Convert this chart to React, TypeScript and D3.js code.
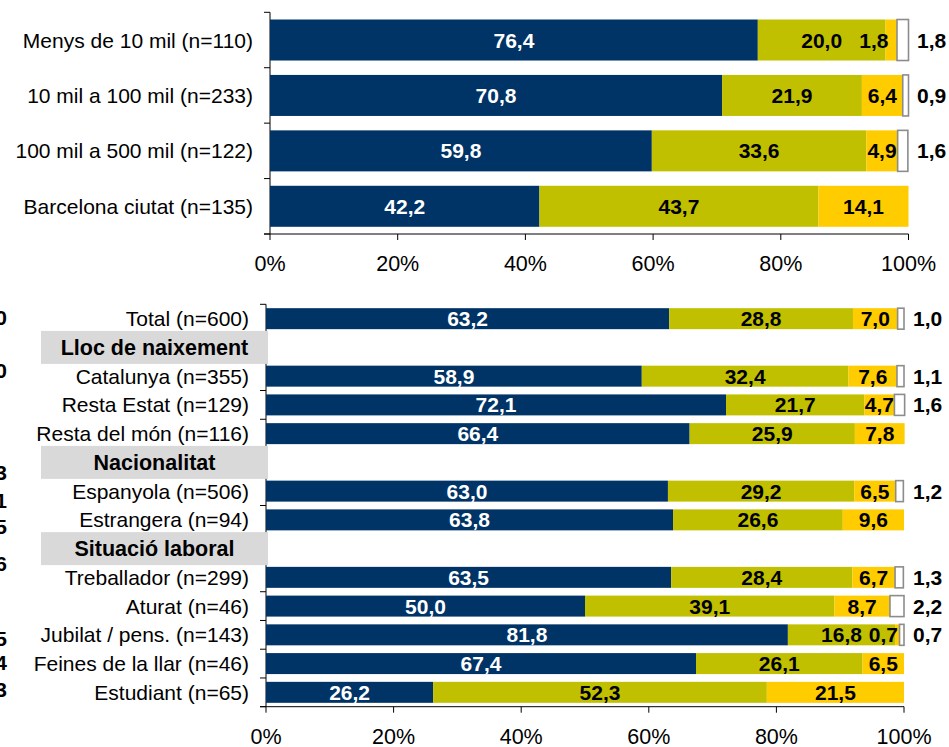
import * as d3 from 'd3'

// Tamany de municipi
const topCategories = [
  'Menys de 10 mil (n=110)',
  '10 mil a 100 mil (n=233)',
  '100 mil a 500 mil (n=122)',
  'Barcelona ciutat (n=135)',
]
const topS1 = [76.4, 70.8, 59.8, 42.2]
const topS2 = [20.0, 21.9, 33.6, 43.7]
const topS3 = [1.8, 6.4, 4.9, 14.1]
const topS4 = [1.8, 0.9, 1.6, 0]

// Perfil
const bottomRows = [
  'Total (n=600)',
  'Lloc de naixement',
  'Catalunya (n=355)',
  'Resta Estat (n=129)',
  'Resta del món (n=116)',
  'Nacionalitat',
  'Espanyola (n=506)',
  'Estrangera (n=94)',
  'Situació laboral',
  'Treballador (n=299)',
  'Aturat (n=46)',
  'Jubilat / pens. (n=143)',
  'Feines de la llar (n=46)',
  'Estudiant (n=65)',
]
const bottomHeaders = ['Lloc de naixement', 'Nacionalitat', 'Situació laboral']
const botS1 = [63.2, 58.9, 72.1, 66.4, 63.0, 63.8, 63.5, 50.0, 81.8, 67.4, 26.2]
const botS2 = [28.8, 32.4, 21.7, 25.9, 29.2, 26.6, 28.4, 39.1, 16.8, 26.1, 52.3]
const botS3 = [7.0, 7.6, 4.7, 7.8, 6.5, 9.6, 6.7, 8.7, 0.7, 6.5, 21.5]
const botS4 = [1.0, 1.1, 1.6, 0, 1.2, 0, 1.3, 2.2, 0.7, 0, 0]

const xTicks = [0, 20, 40, 60, 80, 100]

// restes d'un gràfic veí retallat al marge esquerre
const clippedDigits = ['0', '0', '3', '1', '5', '6', '5', '4', '3']
const clippedBaselines = [325, 378, 480, 508, 534, 571, 646, 670, 697]

const COLORS = ['#003366', '#c0c000', '#ffcc00', '#ffffff']
const FONT = '"Liberation Sans", Arial, sans-serif'

const fmt = (v: number) => v.toFixed(1).replace('.', ',')

type Row = { label: string; values: number[] }

function StackedChart({
  rows,
  categories,
  headers,
  x0,
  x1,
  y0,
  y1,
  padInner,
  rightLabelGap,
}: {
  rows: Row[]
  categories: string[]
  headers: string[]
  x0: number
  x1: number
  y0: number
  y1: number
  padInner: number
  rightLabelGap: number
}) {
  const x = d3.scaleLinear().domain([0, 100]).range([x0, x1])
  const y = d3
    .scaleBand<string>()
    .domain(categories)
    .range([y0, y1])
    .paddingInner(padInner)
    .paddingOuter(padInner / 2)
  const step = y.step()
  const bw = y.bandwidth()
  const boundaries = d3.range(categories.length + 1).map((i) => y0 + i * step)

  return (
    <g fontFamily={FONT}>
      {/* eix Y */}
      <line x1={x0} x2={x0} y1={y0} y2={y1} stroke="#000" />
      {boundaries.map((b, i) => (
        <line key={'yt' + i} x1={x0 - 6} x2={x0} y1={b} y2={b} stroke="#000" />
      ))}
      {/* eix X */}
      <line x1={x0 - 6} x2={x1} y1={y1} y2={y1} stroke="#000" />
      {xTicks.map((t) => (
        <g key={'xt' + t}>
          <line x1={x(t)} x2={x(t)} y1={y1} y2={y1 + 6} stroke="#000" />
          <text x={x(t)} y={y1 + 37} textAnchor="middle" fontSize={21.5} fill="#000">
            {t}%
          </text>
        </g>
      ))}

      {rows.map((r) => {
        const yy = y(r.label)!
        const cy = yy + bw / 2
        const starts = d3.cumsum([0, ...r.values]).slice(0, r.values.length)
        return (
          <g key={r.label}>
            {r.values.map((v, i) => {
              if (v <= 0) return null
              const xs = x(starts[i])
              const w = x(starts[i] + v) - xs
              return (
                <rect
                  key={'r' + i}
                  x={xs}
                  y={yy}
                  width={w}
                  height={bw}
                  fill={COLORS[i]}
                  stroke={i === 3 ? '#8c8c8c' : 'none'}
                  strokeWidth={i === 3 ? 1.6 : 0}
                />
              )
            })}
            {r.values.map((v, i) => {
              if (v <= 0) return null
              const xs = x(starts[i])
              const w = x(starts[i] + v) - xs
              if (i === 3) {
                return (
                  <text
                    key={'l' + i}
                    x={x1 + rightLabelGap}
                    y={cy}
                    dy="0.36em"
                    fontSize={21}
                    fontWeight="bold"
                    fill="#000"
                  >
                    {fmt(v)}
                  </text>
                )
              }
              const narrow = w < 20
              return (
                <text
                  key={'l' + i}
                  x={narrow ? xs + 3 : xs + w / 2}
                  y={cy}
                  dy="0.36em"
                  textAnchor={narrow ? 'end' : 'middle'}
                  fontSize={21}
                  fontWeight="bold"
                  fill={i === 0 ? '#fff' : '#000'}
                >
                  {fmt(v)}
                </text>
              )
            })}
          </g>
        )
      })}

      {/* etiquetes de categoria */}
      {categories.map((c) => {
        const cy = y(c)! + bw / 2
        if (headers.includes(c)) {
          return (
            <g key={'c' + c}>
              <rect x={41} y={cy - 16.5} width={227} height={33} fill="#d9d9d9" />
              <text
                x={154.5}
                y={cy}
                dy="0.36em"
                textAnchor="middle"
                fontSize={21.5}
                fontWeight="bold"
                fill="#000"
              >
                {c}
              </text>
            </g>
          )
        }
        return (
          <text key={'c' + c} x={x0 - 17} y={cy} dy="0.36em" textAnchor="end" fontSize={21} fill="#000">
            {c}
          </text>
        )
      })}
    </g>
  )
}

export default function App() {
  const topRows: Row[] = topCategories.map((c, i) => ({
    label: c,
    values: [topS1[i], topS2[i], topS3[i], topS4[i]],
  }))
  const barRows = bottomRows.filter((r) => !bottomHeaders.includes(r))
  const botRows: Row[] = barRows.map((c, i) => ({
    label: c,
    values: [botS1[i], botS2[i], botS3[i], botS4[i]],
  }))

  return (
    <svg
      width={949}
      height={747}
      style={{ position: 'absolute', left: 0, top: 0, background: '#fff' }}
    >
      <rect width={949} height={747} fill="#fff" />
      <StackedChart
        rows={topRows}
        categories={topCategories}
        headers={[]}
        x0={270}
        x1={908.5}
        y0={12.3}
        y1={234}
        padInner={0.26}
        rightLabelGap={8.5}
      />
      <StackedChart
        rows={botRows}
        categories={bottomRows}
        headers={bottomHeaders}
        x0={266}
        x1={904}
        y0={304.3}
        y1={706.7}
        padInner={0.27}
        rightLabelGap={9}
      />
      {clippedDigits.map((d, i) => (
        <text
          key={'cd' + i}
          x={7}
          y={clippedBaselines[i]}
          textAnchor="end"
          fontFamily={FONT}
          fontSize={21}
          fontWeight="bold"
          fill="#000"
        >
          {d}
        </text>
      ))}
    </svg>
  )
}
